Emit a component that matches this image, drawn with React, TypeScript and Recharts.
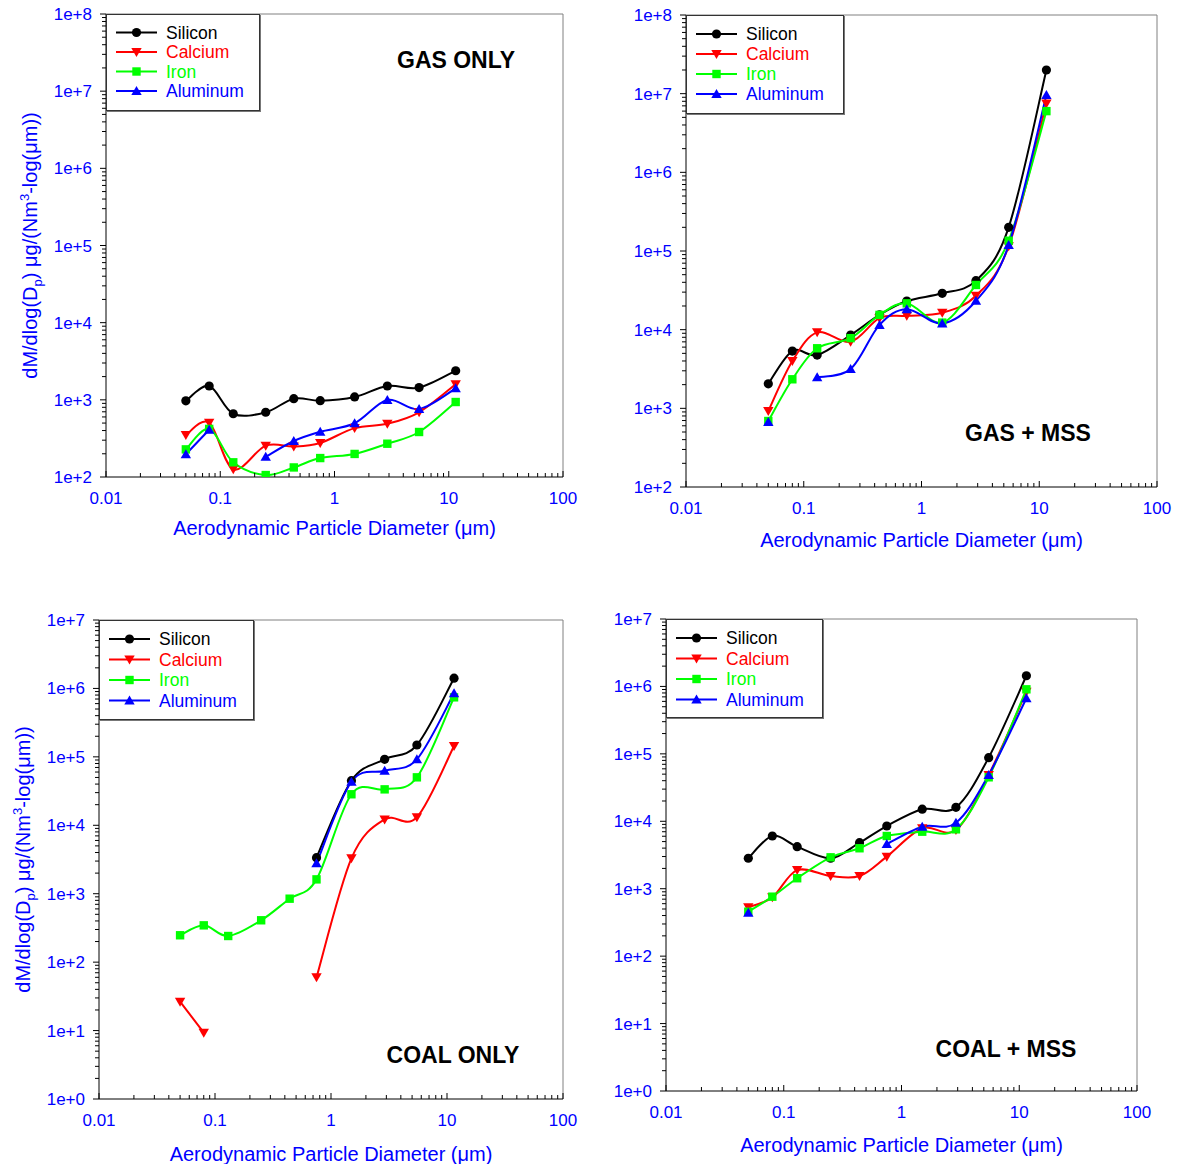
import { Legend, Line, LineChart, ReferenceLine, XAxis, YAxis } from "recharts";

// stage mid-point diameters (µm)
const SIZES = [0.05, 0.08, 0.13, 0.25, 0.44, 0.75, 1.5, 2.9, 5.5, 11.5];

const X_DECADES = [0.01, 0.1, 1, 10, 100];
const Y_DECADES_GAS = [1e2, 1e3, 1e4, 1e5, 1e6, 1e7, 1e8];
const Y_DECADES_COAL = [1e0, 1e1, 1e2, 1e3, 1e4, 1e5, 1e6, 1e7];

// GAS ONLY
const GAS_SILICON = [970, 1510, 660, 690, 1035, 975, 1090, 1510, 1440, 2380];
const GAS_CALCIUM = [350, 505, 126, 255, 248, 276, 430, 490, 690, 1590];
const GAS_IRON = [228, 420, 155, 106, 133, 176, 199, 270, 383, 937];
const GAS_ALUMINUM = [197, 410, null, 183, 293, 386, 497, 995, 760, 1410];

// GAS + MSS
const GASMSS_SILICON = [2050, 5350, 4760, 8550, 15400, 23100, 29000, 42000, 200000, 2.0e7];
const GASMSS_CALCIUM = [925, 4000, 9250, 7000, 14000, 15000, 16400, 27000, 115000, 7.5e6];
const GASMSS_IRON = [690, 2340, 5800, 7800, 15400, 21600, 12300, 37000, 135000, 6.0e6];
const GASMSS_ALUMINUM = [670, null, 2480, 3160, 11500, 18200, 12000, 23300, 119000, 9.6e6];

// COAL ONLY
const COAL_SILICON = [null, null, null, null, null, 3360, 44800, 92000, 149000, 1.41e6];
const COAL_CALCIUM = [26.4, 9.3, null, null, null, 60, 3290, 12200, 13100, 144000];
const COAL_IRON = [247, 345, 241, 409, 846, 1620, 28400, 33500, 50200, 741000];
const COAL_ALUMINUM = [null, null, null, null, null, 2780, 43300, 62800, 92100, 848000];

// COAL + MSS
const COALMSS_SILICON = [2830, 6050, 4200, 2830, 4820, 8510, 15100, 16100, 87900, 1.44e6];
const COALMSS_CALCIUM = [530, 745, 1890, 1540, 1540, 2990, 7870, 7430, 48600, 835000];
const COALMSS_IRON = [456, 762, 1430, 2920, 3980, 6050, 7010, 7600, 44900, 906000];
const COALMSS_ALUMINUM = [441, null, null, null, null, 4600, 8320, 9520, 48600, 667000];

const FONT = "Arial, 'Liberation Sans', Helvetica, sans-serif";
const BLUE = "#0000ff";

const SERIES = [
  { key: "silicon", name: "Silicon", color: "#000000", shape: "circle" },
  { key: "calcium", name: "Calcium", color: "#ff0000", shape: "down" },
  { key: "iron", name: "Iron", color: "#00ff00", shape: "square" },
  { key: "aluminum", name: "Aluminum", color: "#0000ff", shape: "up" },
];

function buildRows(si: any[], ca: any[], fe: any[], al: any[]) {
  return SIZES.map((d, i) => ({ d, silicon: si[i], calcium: ca[i], iron: fe[i], aluminum: al[i] }));
}

// decades plus the 2..9 minor ticks between them
function withMinors(decades: number[]) {
  const out: number[] = [];
  decades.forEach((d, i) => {
    out.push(d);
    if (i < decades.length - 1) for (let m = 2; m <= 9; m++) out.push(+(d * m).toPrecision(3));
  });
  return out;
}

const isDecade = (v: number) => Math.abs(Math.log10(v) - Math.round(Math.log10(v))) < 1e-6;

// catmull-rom spline, like the plotting program's smoothed lines
function catmullRom(context: any) {
  let pts: number[][] = [];
  return {
    areaStart() {},
    areaEnd() {},
    lineStart() {
      pts = [];
    },
    point(x: number, y: number) {
      pts.push([+x, +y]);
    },
    lineEnd() {
      if (!pts.length) return;
      context.moveTo(pts[0][0], pts[0][1]);
      for (let i = 0; i < pts.length - 1; i++) {
        const p0 = pts[i - 1] || pts[i];
        const p1 = pts[i];
        const p2 = pts[i + 1];
        const p3 = pts[i + 2] || p2;
        context.bezierCurveTo(
          p1[0] + (p2[0] - p0[0]) / 6,
          p1[1] + (p2[1] - p0[1]) / 6,
          p2[0] - (p3[0] - p1[0]) / 6,
          p2[1] - (p3[1] - p1[1]) / 6,
          p2[0],
          p2[1],
        );
      }
    },
  };
}

function MarkerShape({ shape, cx, cy, color }: any) {
  if (shape === "circle") return <circle cx={cx} cy={cy} r={4.6} fill={color} />;
  if (shape === "square") return <rect x={cx - 4.2} y={cy - 4.2} width={8.4} height={8.4} fill={color} />;
  if (shape === "down")
    return <polygon points={`${cx - 5.2},${cy - 4} ${cx + 5.2},${cy - 4} ${cx},${cy + 5}`} fill={color} />;
  return <polygon points={`${cx - 5.2},${cy + 4} ${cx + 5.2},${cy + 4} ${cx},${cy - 5}`} fill={color} />;
}

const makeDot = (shape: string, color: string) => (props: any) => {
  const { cx, cy, index, value } = props;
  if (cx == null || cy == null || value == null) return <g key={`d${index}`} />;
  return (
    <g key={`d${index}`}>
      <MarkerShape shape={shape} cx={cx} cy={cy} color={color} />
    </g>
  );
};

const fmtX = (v: number) => (v < 1 ? String(v) : String(Math.round(v)));

const renderXTick = (props: any) => {
  const { x, y, payload } = props;
  const major = isDecade(payload.value);
  return (
    <g>
      <line x1={x} x2={x} y1={y} y2={y - (major ? 6 : 4)} stroke="#000" />
      {major && (
        <text x={x} y={y + 27} textAnchor="middle" fill={BLUE} fontSize={17} fontFamily={FONT}>
          {fmtX(payload.value)}
        </text>
      )}
    </g>
  );
};

const renderYTick = (props: any) => {
  const { x, y, payload } = props;
  const major = isDecade(payload.value);
  return (
    <g>
      <line x1={x} x2={x - (major ? 6 : 4)} y1={y} y2={y} stroke="#000" />
      {major && (
        <text x={x - 14} y={y + 6} textAnchor="end" fill={BLUE} fontSize={17} fontFamily={FONT}>
          {`1e+${Math.round(Math.log10(payload.value))}`}
        </text>
      )}
    </g>
  );
};

const makeXLabel = (dy: number) => (props: any) => {
  const { viewBox } = props;
  return (
    <text
      x={viewBox.x + viewBox.width / 2}
      y={viewBox.y + dy + 7}
      textAnchor="middle"
      fill={BLUE}
      fontSize={20}
      fontFamily={FONT}
    >
      Aerodynamic Particle Diameter (μm)
    </text>
  );
};

const makeYLabel = (dx: number) => (props: any) => {
  const { viewBox } = props;
  const cx = viewBox.x + viewBox.width - dx;
  const cy = viewBox.y + viewBox.height / 2;
  return (
    <text
      x={cx}
      y={cy + 7}
      transform={`rotate(-90, ${cx}, ${cy})`}
      textAnchor="middle"
      fill={BLUE}
      fontSize={20}
      fontFamily={FONT}
    >
      dM/dlog(D
      <tspan dy={5} fontSize={13}>
        p
      </tspan>
      <tspan dy={-5}>{")  μg/(Nm"}</tspan>
      <tspan dy={-8} fontSize={13}>
        3
      </tspan>
      <tspan dy={8}>-log(μm))</tspan>
    </text>
  );
};

function LegendBox({ lg }: any) {
  return (
    <svg
      width={lg.w}
      height={lg.h}
      style={{ display: "block", background: "#fff", border: "1px solid #333", boxShadow: "1px 1px 0 #777" }}
    >
      {SERIES.map((s, i) => {
        const y = lg.row0 + i * lg.gap;
        return (
          <g key={s.key}>
            <line x1={9} x2={50} y1={y} y2={y} stroke={s.color} strokeWidth={2} />
            <MarkerShape shape={s.shape} cx={29.5} cy={y} color={s.color} />
            <text x={59} y={y + 6} fill={s.color} fontSize={17.5} fontFamily={FONT}>
              {s.name}
            </text>
          </g>
        );
      })}
    </svg>
  );
}

const PANELS = [
  {
    id: "gas",
    title: "GAS ONLY",
    rows: buildRows(GAS_SILICON, GAS_CALCIUM, GAS_IRON, GAS_ALUMINUM),
    yDecades: Y_DECADES_GAS,
    plot: { x0: 106, y0: 14, x1: 563, y1: 477 },
    yLabel: true,
    titleAt: [456, 60],
    legend: { w: 152, h: 95, row0: 17.5, gap: 19.5 },
    xLabelDy: 51,
  },
  {
    id: "gasmss",
    title: "GAS + MSS",
    rows: buildRows(GASMSS_SILICON, GASMSS_CALCIUM, GASMSS_IRON, GASMSS_ALUMINUM),
    yDecades: Y_DECADES_GAS,
    plot: { x0: 686, y0: 15, x1: 1157, y1: 487 },
    yLabel: false,
    titleAt: [1028, 433],
    legend: { w: 156, h: 97, row0: 18, gap: 20 },
    xLabelDy: 53,
  },
  {
    id: "coal",
    title: "COAL ONLY",
    rows: buildRows(COAL_SILICON, COAL_CALCIUM, COAL_IRON, COAL_ALUMINUM),
    yDecades: Y_DECADES_COAL,
    plot: { x0: 99, y0: 620, x1: 563, y1: 1099 },
    yLabel: true,
    titleAt: [453, 1055],
    legend: { w: 153, h: 98, row0: 18, gap: 20.5 },
    xLabelDy: 55,
  },
  {
    id: "coalmss",
    title: "COAL + MSS",
    rows: buildRows(COALMSS_SILICON, COALMSS_CALCIUM, COALMSS_IRON, COALMSS_ALUMINUM),
    yDecades: Y_DECADES_COAL,
    plot: { x0: 666, y0: 619, x1: 1137, y1: 1091 },
    yLabel: false,
    titleAt: [1006, 1049],
    legend: { w: 155, h: 97, row0: 18, gap: 20.5 },
    xLabelDy: 54,
  },
];

const Y_AXIS_W = 60;
const X_AXIS_H = 30;
const PAD_LEFT = 95;
const PAD_RIGHT = 20;
const PAD_TOP = 14;
const PAD_BOTTOM = 65;

function Panel({ p }: any) {
  const { x0, y0, x1, y1 } = p.plot;
  const left = x0 - PAD_LEFT;
  const top = y0 - PAD_TOP;
  const width = x1 - x0 + PAD_LEFT + PAD_RIGHT;
  const height = y1 - y0 + PAD_TOP + PAD_BOTTOM;
  const yMin = p.yDecades[0];
  const yMax = p.yDecades[p.yDecades.length - 1];
  return (
    <div style={{ position: "absolute", left, top }}>
      <LineChart
        width={width}
        height={height}
        data={p.rows}
        margin={{ top: PAD_TOP, right: PAD_RIGHT, bottom: PAD_BOTTOM - X_AXIS_H, left: PAD_LEFT - Y_AXIS_W }}
      >
        <XAxis
          dataKey="d"
          type="number"
          scale="log"
          domain={[0.01, 100]}
          allowDataOverflow
          ticks={withMinors(X_DECADES)}
          interval={0}
          tickSize={0}
          tickMargin={0}
          tickLine={false}
          tick={renderXTick}
          height={X_AXIS_H}
          axisLine={{ stroke: "#000" }}
          label={makeXLabel(p.xLabelDy)}
        />
        <YAxis
          type="number"
          scale="log"
          domain={[yMin, yMax]}
          allowDataOverflow
          ticks={withMinors(p.yDecades)}
          interval={0}
          tickSize={0}
          tickMargin={0}
          tickLine={false}
          tick={renderYTick}
          width={Y_AXIS_W}
          axisLine={{ stroke: "#000" }}
          label={p.yLabel ? makeYLabel(76) : undefined}
        />
        <ReferenceLine y={yMax} stroke="#808080" />
        <ReferenceLine x={100} stroke="#808080" />
        {SERIES.map((s) => (
          <Line
            key={s.key}
            dataKey={s.key}
            name={s.name}
            type={catmullRom as any}
            stroke={s.color}
            strokeWidth={2}
            dot={makeDot(s.shape, s.color)}
            activeDot={false}
            connectNulls={false}
            isAnimationActive={false}
          />
        ))}
        <Legend
          layout="horizontal"
          verticalAlign="middle"
          align="center"
          wrapperStyle={{ left: PAD_LEFT, top: PAD_TOP, width: "auto", height: "auto" }}
          content={() => <LegendBox lg={p.legend} />}
        />
      </LineChart>
    </div>
  );
}

export default function App() {
  return (
    <div
      style={{
        position: "absolute",
        left: 0,
        top: 0,
        width: 1179,
        height: 1168,
        overflow: "hidden",
        background: "#fff",
        fontFamily: FONT,
      }}
    >
      {PANELS.map((p) => (
        <Panel key={p.id} p={p} />
      ))}
      {PANELS.map((p) => (
        <div
          key={`t-${p.id}`}
          style={{
            position: "absolute",
            left: p.titleAt[0],
            top: p.titleAt[1],
            transform: "translate(-50%, -50%)",
            fontSize: 23,
            fontWeight: "bold",
            color: "#000",
            whiteSpace: "nowrap",
          }}
        >
          {p.title}
        </div>
      ))}
    </div>
  );
}
